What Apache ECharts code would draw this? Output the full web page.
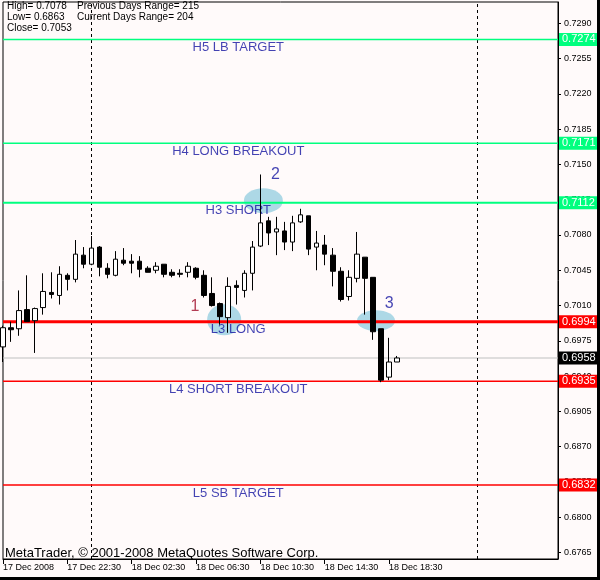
<!DOCTYPE html>
<html><head><meta charset="utf-8">
<script src="https://cdn.jsdelivr.net/npm/echarts@6/dist/echarts.min.js"></script>
<style>
html,body{margin:0;padding:0;background:#000;width:600px;height:580px;overflow:hidden;}
#c{position:absolute;left:0;top:0;width:597px;height:577px;background:#FFFAFA;}
</style></head><body><div id="c"></div>
<script>
const categories = [
'2008.12.17 18:30','2008.12.17 19:00','2008.12.17 19:30','2008.12.17 20:00','2008.12.17 20:30','2008.12.17 21:00','2008.12.17 21:30','2008.12.17 22:00','2008.12.17 22:30','2008.12.17 23:00','2008.12.17 23:30',
'2008.12.18 00:00','2008.12.18 00:30','2008.12.18 01:00','2008.12.18 01:30','2008.12.18 02:00','2008.12.18 02:30','2008.12.18 03:00','2008.12.18 03:30','2008.12.18 04:00','2008.12.18 04:30','2008.12.18 05:00','2008.12.18 05:30',
'2008.12.18 06:00','2008.12.18 06:30','2008.12.18 07:00','2008.12.18 07:30','2008.12.18 08:00','2008.12.18 08:30','2008.12.18 09:00','2008.12.18 09:30','2008.12.18 10:00','2008.12.18 10:30','2008.12.18 11:00','2008.12.18 11:30',
'2008.12.18 12:00','2008.12.18 12:30','2008.12.18 13:00','2008.12.18 13:30','2008.12.18 14:00','2008.12.18 14:30','2008.12.18 15:00','2008.12.18 15:30','2008.12.18 16:00','2008.12.18 16:30','2008.12.18 17:00','2008.12.18 17:30',
'2008.12.18 18:00','2008.12.18 18:30','2008.12.18 19:00','2008.12.18 19:30','2008.12.18 20:00','2008.12.18 20:30','2008.12.18 21:00','2008.12.18 21:30','2008.12.18 22:00','2008.12.18 22:30','2008.12.18 23:00','2008.12.18 23:30',
'2008.12.19 00:00','2008.12.19 00:30','2008.12.19 01:00','2008.12.19 01:30','2008.12.19 02:00','2008.12.19 02:30','2008.12.19 03:00','2008.12.19 03:30','2008.12.19 04:00','2008.12.19 04:30','2008.12.19 05:00'
];
const opens  = [0.6969,0.6988,0.6987,0.7006,0.6995,0.7008,0.7023,0.7020,0.7040,0.7036,0.7060,0.7051,0.7068,0.7047,0.7040,0.7055,0.7054,0.7054,0.7047,0.7045,0.7051,0.7043,0.7042,0.7043,0.7047,0.7040,0.7022,0.7012,0.6998,0.7030,0.7025,0.7042,0.7069,0.7094,0.7083,0.7084,0.7073,0.7093,0.7099,0.7068,0.7070,0.7060,0.7044,0.7019,0.7037,0.7058,0.7038,0.6987,0.6939,0.6954];
const highs  = [0.6990,0.6994,0.7025,0.7040,0.7008,0.7042,0.7043,0.7049,0.7042,0.7075,0.7068,0.7079,0.7069,0.7052,0.7064,0.7067,0.7061,0.7059,0.7049,0.7053,0.7051,0.7046,0.7046,0.7053,0.7048,0.7045,0.7038,0.7013,0.7038,0.7035,0.7045,0.7074,0.7140,0.7098,0.7098,0.7093,0.7099,0.7106,0.7099,0.7084,0.7080,0.7067,0.7048,0.7045,0.7083,0.7058,0.7038,0.6987,0.6978,0.6960];
const lows   = [0.6954,0.6974,0.6980,0.6994,0.6963,0.7001,0.7017,0.7011,0.7025,0.7033,0.7047,0.7050,0.7039,0.7037,0.7039,0.7050,0.7042,0.7038,0.7043,0.7042,0.7038,0.7038,0.7038,0.7038,0.7036,0.7018,0.7009,0.6991,0.6983,0.7011,0.7018,0.7025,0.7068,0.7070,0.7060,0.7065,0.7064,0.7092,0.7060,0.7045,0.7050,0.7029,0.7014,0.7015,0.7033,0.7001,0.6976,0.6934,0.6936,0.6954];
const closes = [0.6988,0.6986,0.7005,0.6994,0.7007,0.7024,0.7021,0.7041,0.7036,0.7061,0.7051,0.7067,0.7048,0.7041,0.7056,0.7052,0.7052,0.7046,0.7043,0.7049,0.7041,0.7040,0.7041,0.7049,0.7038,0.7020,0.7010,0.6999,0.7029,0.7028,0.7042,0.7068,0.7092,0.7082,0.7086,0.7073,0.7092,0.7100,0.7066,0.7072,0.7061,0.7044,0.7016,0.7038,0.7061,0.7037,0.6984,0.6936,0.6954,0.6958];

const xTickIdx = [0, 8, 16, 24, 32, 40, 48];
const xTickLabels = ['17 Dec 2008','17 Dec 22:30','18 Dec 02:30','18 Dec 06:30','18 Dec 10:30','18 Dec 14:30','18 Dec 18:30'];
const yTickLabels = ['0.7290','0.7255','0.7220','0.7185','0.7150','0.7115','0.7080','0.7045','0.7010','0.6975','0.6940','0.6905','0.6870','0.6835','0.6800','0.6765'];

const levelNames  = ['H5 LB TARGET','H4 LONG BREAKOUT','H3 SHORT','L3 LONG','L4 SHORT BREAKOUT','L5 SB TARGET'];
const levelPrices = [0.7274, 0.7171, 0.7112, 0.6994, 0.6935, 0.6832];
const levelKinds  = ['high','high','high','low','low','low'];
const levelWidths = [1.5, 1.5, 2, 3, 1.5, 1.5];
const currentPrice = 0.6958;
const daySeparators = ['2008.12.18 00:00','2008.12.19 00:00'];

const circleIdx   = [27, 32, 46];
const circlePrice = [0.6996, 0.7114, 0.6995];
const markerNames = ['1','2','3'];
const markerIdx   = [24, 34, 48];
const markerPrice = [0.7009, 0.7140, 0.7012];
const levelLabelIdx = 29;

const infoLeft  = ['High= 0.7078','Low= 0.6863','Close= 0.7053'];
const infoRight = ['Previous Days Range= 215','Current Days Range= 204'];
const copyright = 'MetaTrader, \u00A9 2001-2008 MetaQuotes Software Corp.';

const GREEN = '#00FF7F', RED = '#FF0000', TEXTBLUE = '#1414A0';
const FONT = 'Liberation Sans';

const chart = echarts.init(document.getElementById('c'));
const candleData = opens.map((o, i) => [o, closes[i], lows[i], highs[i]]);
const lastIdx = categories.length - 1;

function levelSeries(p, col, width) {
  return {
    type: 'line', z: 3, silent: true, showSymbol: false, symbol: 'none',
    data: [[0, p], [lastIdx, p]],
    lineStyle: { color: col, width: width, type: 'solid' },
    itemStyle: { color: col },
    emphasis: { disabled: true },
    endLabel: { show: true, distance: 1, formatter: () => p.toFixed(4),
      color: '#fff', backgroundColor: col, padding: [1, 3, 0, 3], fontSize: 11, lineHeight: 12, fontFamily: FONT }
  };
}
const levelSeriesList = levelPrices.map((p, i) =>
  levelSeries(p, levelKinds[i] === 'high' ? GREEN : RED, levelWidths[i]));
const currentSeries = levelSeries(currentPrice, '#C0C0C0', 1.2);
currentSeries.endLabel.backgroundColor = '#000';
currentSeries.z = 2;

const sepLines = daySeparators.map(d => ({ xAxis: d, lineStyle: { color: '#000', width: 1, type: [3, 3] }, label: { show: false } }));

const circleSizes = [[34, 31], [39, 25], [38, 21]];
const circleOffsets = [[4, 0], [3, 0], [3, 0]];
const markerColors = ['#A00E2A', '#1414A0', '#1414A0'];
const markerOffsets = [[-1, 0], [-1, 0], [0, 0]];

const xShow = (index) => xTickIdx.indexOf(index) >= 0;

chart.setOption({
  animation: false,
  backgroundColor: '#FFFAFA',
  title: [
    { text: infoLeft.join('\n'), left: 7, top: 1, padding: 0,
      textStyle: { fontSize: 10, lineHeight: 11, fontWeight: 'normal', color: '#000', fontFamily: FONT } },
    { text: infoRight.join('\n'), left: 77, top: 1, padding: 0,
      textStyle: { fontSize: 10, lineHeight: 11, fontWeight: 'normal', color: '#000', fontFamily: FONT } },
    { text: copyright, left: 5, top: 546, padding: 0,
      textStyle: { fontSize: 13, lineHeight: 15, fontWeight: 'normal', color: '#000', fontFamily: FONT } }
  ],
  grid: { left: 3, right: 39, top: 2, bottom: 18, show: true, borderColor: '#000', borderWidth: 1, backgroundColor: 'transparent' },
  xAxis: {
    type: 'category', data: categories, boundaryGap: false,
    axisLine: { show: true, lineStyle: { color: '#000', width: 1 } },
    axisTick: { show: true, length: 5, interval: xShow, lineStyle: { color: '#000' } },
    axisLabel: { interval: xShow, align: 'left', margin: 4, fontSize: 9, color: '#000', fontFamily: FONT,
      formatter: (v, i) => { const k = xTickIdx.indexOf(i); return k >= 0 ? xTickLabels[k] : ''; } },
    splitLine: { show: false }
  },
  yAxis: {
    type: 'value', position: 'right', min: 0.67586, max: 0.73111, scale: true,
    axisLine: { show: true, lineStyle: { color: '#000', width: 1 } },
    axisTick: { show: true, length: 3, customValues: yTickLabels.map(Number), lineStyle: { color: '#000' } },
    axisLabel: { customValues: yTickLabels.map(Number), margin: 6, fontSize: 9, color: '#000', fontFamily: FONT,
      formatter: v => v.toFixed(4) },
    splitLine: { show: false }
  },
  series: [
    {
      type: 'scatter', z: 1, silent: true,
      data: circleIdx.map((x, i) => ({ value: [x, circlePrice[i]], symbolSize: circleSizes[i], symbolOffset: circleOffsets[i] })),
      symbol: 'circle',
      itemStyle: { color: '#ADD8E6', opacity: 1 }
    },
    currentSeries,
    ...levelSeriesList,
    {
      type: 'line', data: [], z: 3, silent: true,
      markLine: { silent: true, symbol: 'none', precision: 4, z: 3, animation: false, data: sepLines }
    },
    {
      type: 'scatter', z: 4, silent: true, symbolSize: 1,
      data: levelPrices.map((p, i) => ({ value: [levelLabelIdx, p], name: levelNames[i] })),
      itemStyle: { color: 'rgba(0,0,0,0)' },
      label: { show: true, position: 'inside', offset: [2, 8], formatter: '{b}', color: TEXTBLUE, fontSize: 13, fontFamily: FONT }
    },
    {
      type: 'scatter', z: 4, silent: true, symbolSize: 1,
      data: markerIdx.map((x, i) => ({ value: [x, markerPrice[i]], name: markerNames[i],
        label: { color: markerColors[i], offset: markerOffsets[i] } })),
      itemStyle: { color: 'rgba(0,0,0,0)' },
      label: { show: true, position: 'inside', formatter: '{b}', fontSize: 16, fontFamily: FONT }
    },
    {
      type: 'candlestick', z: 10, barWidth: 5,
      data: candleData,
      itemStyle: { color: '#FFFFFF', color0: '#000000', borderColor: '#000000', borderColor0: '#000000', borderWidth: 1 }
    }
  ]
});
</script></body></html>
